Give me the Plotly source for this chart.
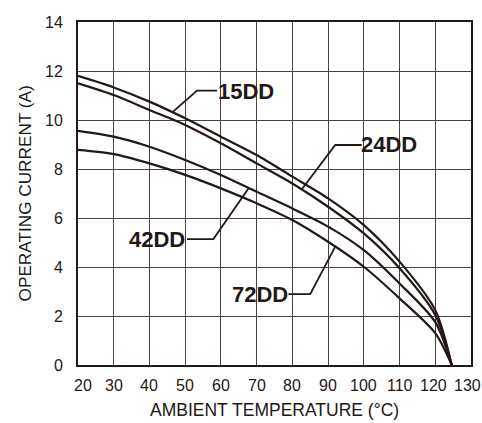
import plotly.graph_objects as go

# ---- data ----
temp = [20, 30, 40, 50, 60, 70, 80, 90, 100, 110, 120, 124.6]
cur_15DD = [11.8, 11.33, 10.75, 10.07, 9.32, 8.57, 7.69, 6.8, 5.71, 4.22, 2.24, 0]
cur_24DD = [11.5, 11.02, 10.41, 9.8, 9.05, 8.23, 7.41, 6.46, 5.37, 3.95, 2.04, 0]
cur_42DD = [9.56, 9.32, 8.91, 8.37, 7.76, 7.07, 6.39, 5.65, 4.69, 3.33, 1.75, 0]
cur_72DD = [8.78, 8.61, 8.23, 7.76, 7.21, 6.6, 5.92, 5.03, 4.01, 2.72, 1.3, 0]

series_names = ["15DD", "24DD", "42DD", "72DD"]
series_vals = [cur_15DD, cur_24DD, cur_42DD, cur_72DD]

x_ticks = [20, 30, 40, 50, 60, 70, 80, 90, 100, 110, 120, 130]
x_tick_labels = [str(v) for v in x_ticks]
y_ticks = [0, 2, 4, 6, 8, 10, 12, 14]
y_tick_labels = [str(v) for v in y_ticks]

# label placement (text position + leader polyline), in data units
label_text_pos = {"15DD": (67.0, 11.16), "24DD": (107.1, 8.98),
                  "42DD": (42.1, 5.14), "72DD": (71.0, 2.89)}
label_leader = {
    "15DD": ([58.9, 53.3, 46.3], [11.2, 11.2, 10.3]),
    "24DD": ([99.4, 92.0, 82.6], [8.98, 8.98, 7.16]),
    "42DD": ([50.5, 57.9, 67.7], [5.14, 5.14, 7.2]),
    "72DD": ([78.9, 85.0, 92.0], [2.89, 2.89, 4.83]),
}
# small pixel nudges of the end tick labels, as in the reference
x_label_nudge = {20: 5, 120: -2, 130: -4}

INK = "#231815"
GRID = "#4a4242"
FONT = "Liberation Sans, Arial, Helvetica, sans-serif"

fig = go.Figure()
for name, vals in zip(series_names, series_vals):
    fig.add_trace(go.Scatter(x=temp, y=vals, mode="lines", name=name,
                             line=dict(color=INK, width=2.2, shape="spline", smoothing=0.8),
                             hoverinfo="x+y+name"))

for name in series_names:
    lx, ly = label_leader[name]
    fig.add_trace(go.Scatter(x=lx, y=ly, mode="lines", showlegend=False,
                             line=dict(color=INK, width=1.8), hoverinfo="skip"))
    tx, ty = label_text_pos[name]
    fig.add_annotation(x=tx, y=ty, xref="x", yref="y", text="<b>%s</b>" % name,
                       showarrow=False, font=dict(family=FONT, size=22, color=INK),
                       xanchor="center", yanchor="middle")

# x tick labels (drawn as text at the axis tick values)
for v, t in zip(x_ticks, x_tick_labels):
    fig.add_annotation(x=v, y=0, xref="x", yref="paper", text=t, showarrow=False,
                       font=dict(family=FONT, size=16, color=INK),
                       xanchor="center", yanchor="middle",
                       yshift=-20, xshift=x_label_nudge.get(v, 0))

fig.add_annotation(x=0.5, y=-0.131, xref="paper", yref="paper",
                   text="AMBIENT TEMPERATURE (°C)", showarrow=False,
                   font=dict(family=FONT, size=17.5, color=INK),
                   xanchor="center", yanchor="middle")
fig.add_annotation(x=-0.135, y=0.5, xref="paper", yref="paper",
                   text="OPERATING CURRENT (A)", showarrow=False, textangle=-90,
                   font=dict(family=FONT, size=17.2, color=INK),
                   xanchor="center", yanchor="middle")

fig.update_layout(
    width=482, height=423,
    margin=dict(l=78, r=11, t=22, b=58, autoexpand=False),
    paper_bgcolor="white", plot_bgcolor="white",
    showlegend=False,
    font=dict(family=FONT, color=INK),
)
fig.update_xaxes(range=[20, 130], tickvals=x_ticks, showticklabels=False,
                 showgrid=True, gridcolor=GRID, gridwidth=1,
                 showline=True, mirror=True, linecolor=INK, linewidth=2,
                 zeroline=False, ticks="", fixedrange=True, automargin=False)
fig.update_yaxes(range=[0, 14], tickvals=y_ticks, ticktext=y_tick_labels,
                 showgrid=True, gridcolor=GRID, gridwidth=1,
                 showline=True, mirror=True, linecolor=INK, linewidth=2,
                 zeroline=False, ticks="outside", ticklen=10, tickcolor="rgba(0,0,0,0)",
                 tickfont=dict(family=FONT, size=16, color=INK), fixedrange=True,
                 automargin=False, ticklabeloverflow="allow")

fig.write_html("out.html", config={"displayModeBar": False, "staticPlot": False})

# remove the default page margin so the figure sits at the window's top-left
with open("out.html", "r", encoding="utf-8") as f:
    html = f.read()
html = html.replace("<body>", '<body style="margin:0;padding:0;overflow:hidden">', 1)
with open("out.html", "w", encoding="utf-8") as f:
    f.write(html)
